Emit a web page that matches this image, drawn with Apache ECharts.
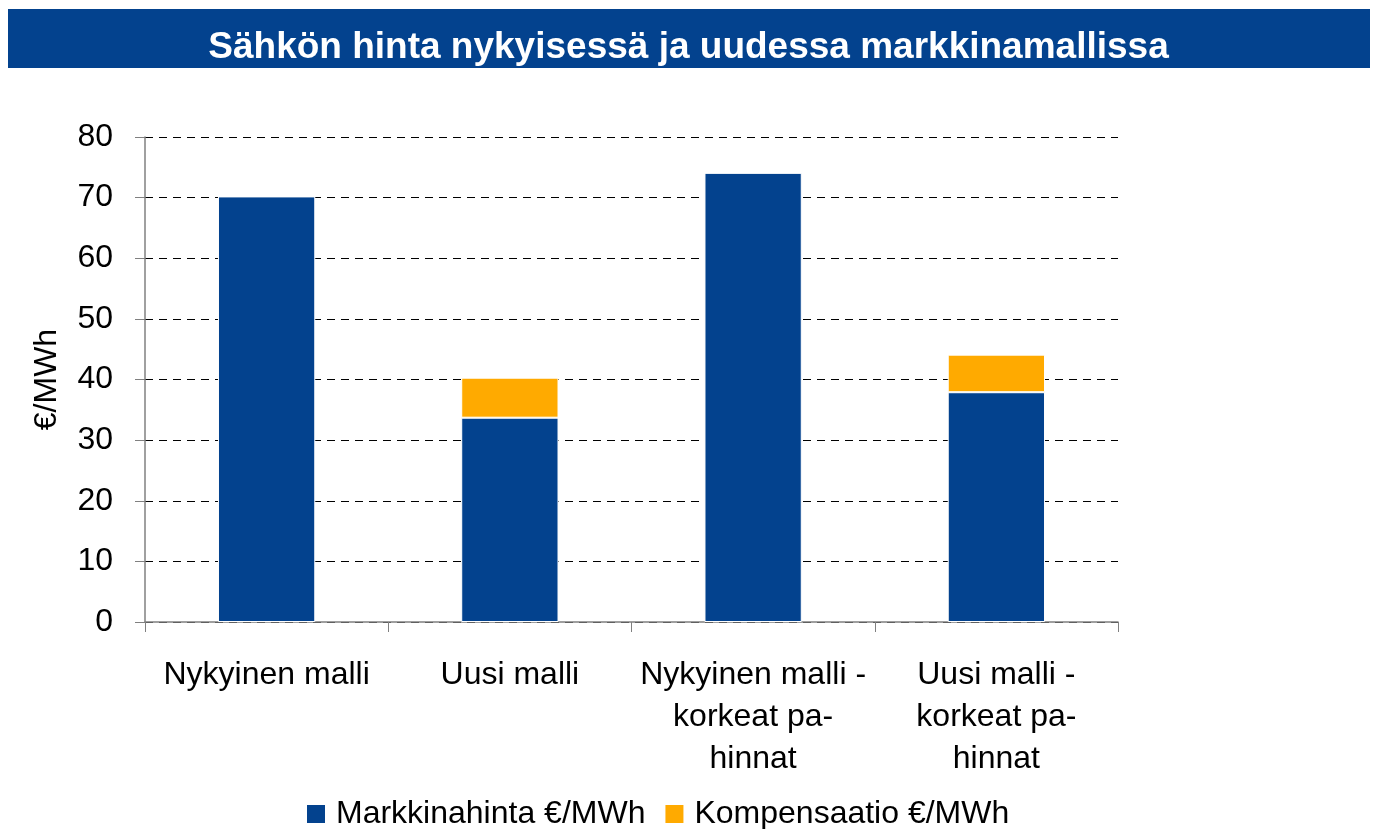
<!DOCTYPE html>
<html lang="fi">
<head>
    <meta charset="UTF-8">
    <title>Sähkön hinta</title>
    <script src="https://cdn.jsdelivr.net/npm/echarts@6/dist/echarts.min.js"></script>
    <style>
        html, body { margin: 0; padding: 0; background: #fff; }
        #chart { width: 1377px; height: 829px; }
    </style>
</head>
<body>
<div id="chart"></div>
<script>
    // tiedot
    const categories = ['Nykyinen malli', 'Uusi malli', 'Nykyinen malli -\nkorkeat pa-\nhinnat', 'Uusi malli -\nkorkeat pa-\nhinnat'];
    const markkinahinta = [70.2, 33.7, 74.1, 37.9];
    const kompensaatio = [0, 6.6, 0, 6.2];
    const yTicks = [0, 10, 20, 30, 40, 50, 60, 70, 80];

    const font = 'Liberation Sans, Arial, sans-serif';
    const blue = '#03428E';
    const orange = '#FFAA00';

    var chart = echarts.init(document.getElementById('chart'));
    chart.setOption({
        animation: false,
        graphic: [{
            type: 'rect',
            shape: {x: 8, y: 9, width: 1362, height: 59},
            style: {fill: blue}
        }],
        title: {
            text: 'Sähkön hinta nykyisessä ja uudessa markkinamallissa',
            left: 'center',
            top: 24,
            textStyle: {color: '#fff', fontFamily: font, fontSize: 37, fontWeight: 'bold'}
        },
        legend: {
            top: 793,
            left: 300,
            itemWidth: 20,
            itemHeight: 20,
            itemGap: 18,
            icon: 'rect',
            textStyle: {fontFamily: font, fontSize: 32, color: '#000', padding: [0, 0, 0, 5]},
            data: ['Markkinahinta €/MWh', 'Kompensaatio €/MWh']
        },
        grid: {left: 145, right: 259, top: 137, bottom: 207},
        xAxis: {
            type: 'category',
            data: categories,
            axisLine: {lineStyle: {color: '#808080', width: 1.5}},
            axisTick: {show: true, interval: 0, length: 10, lineStyle: {color: '#808080'}},
            axisLabel: {interval: 0, fontFamily: font, fontSize: 32, color: '#000', margin: 32, lineHeight: 42}
        },
        yAxis: {
            type: 'value',
            min: yTicks[0],
            max: yTicks[yTicks.length - 1],
            interval: 10,
            name: '€/MWh',
            nameLocation: 'middle',
            nameGap: 82,
            nameRotate: 90,
            nameTextStyle: {fontFamily: font, fontSize: 32, color: '#000'},
            axisLine: {show: true, lineStyle: {color: '#808080', width: 1.5}},
            axisTick: {show: true, inside: false, length: 10, lineStyle: {color: '#808080'}},
            axisLabel: {fontFamily: font, fontSize: 32, color: '#000', margin: 32},
            splitLine: {lineStyle: {color: '#000', type: [8, 6], width: 1}}
        },
        series: [{
            name: 'Markkinahinta €/MWh',
            type: 'bar',
            stack: 'hinta',
            barWidth: '40%',
            data: markkinahinta,
            itemStyle: {color: blue, borderColor: '#fff', borderWidth: 1}
        }, {
            name: 'Kompensaatio €/MWh',
            type: 'bar',
            stack: 'hinta',
            data: kompensaatio,
            itemStyle: {color: orange, borderColor: '#fff', borderWidth: 1}
        }]
    });
</script>
</body>
</html>
